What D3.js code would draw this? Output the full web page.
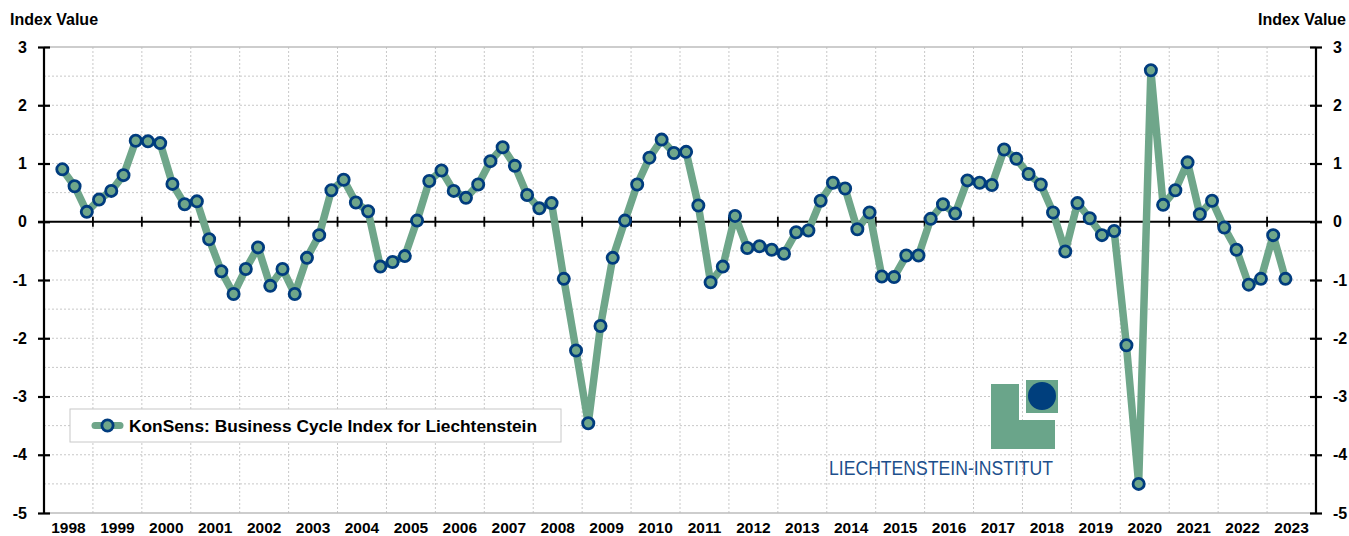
<!DOCTYPE html>
<html>
<head>
<meta charset="utf-8">
<script src="https://cdn.jsdelivr.net/npm/d3@7"></script>
<style>
  html, body { margin: 0; padding: 0; background: #fff; }
  svg { display: block; font-family: 'Liberation Sans', Arial, sans-serif; }
  .grid line { stroke: #c8c8c8; stroke-dasharray: 2 2; }
  .bold { font-weight: bold; fill: #000; }
</style>
</head>
<body>
<svg id="chart" width="1349" height="536"></svg>
<script>
// categories: one label per year, four quarters each
const years = [
  "1998", "1999", "2000", "2001", "2002", "2003", "2004", "2005", "2006",
  "2007", "2008", "2009", "2010", "2011", "2012", "2013", "2014", "2015",
  "2016", "2017", "2018", "2019", "2020", "2021", "2022", "2023"
];
const quarterNames = ["Q1", "Q2", "Q3", "Q4"];
const firstQuarter = "1998Q2";

// KonSens index, quarterly from 1998Q2 to 2023Q2
const konsens = [
  0.90, 0.61, 0.17, 0.38, 0.53, 0.80, 1.39, 1.38, 1.35, 0.65, 0.30, 0.35,
  -0.30, -0.85, -1.24, -0.81, -0.44, -1.10, -0.81, -1.24, -0.62, -0.23, 0.54, 0.72,
  0.33, 0.18, -0.77, -0.69, -0.59, 0.02, 0.70, 0.88, 0.53, 0.41, 0.64, 1.04,
  1.28, 0.96, 0.46, 0.23, 0.32, -0.98, -2.21, -3.46, -1.79, -0.62, 0.02, 0.64,
  1.10, 1.41, 1.18, 1.20, 0.28, -1.04, -0.77, 0.10, -0.45, -0.42, -0.48, -0.55,
  -0.18, -0.15, 0.36, 0.67, 0.57, -0.13, 0.16, -0.94, -0.95, -0.58, -0.58, 0.05,
  0.30, 0.14, 0.71, 0.67, 0.63, 1.24, 1.08, 0.82, 0.64, 0.16, -0.51, 0.32,
  0.06, -0.23, -0.16, -2.12, -4.50, 2.60, 0.29, 0.54, 1.02, 0.13, 0.36, -0.10,
  -0.48, -1.08, -0.98, -0.23, -0.98
];

const yTicks = [3, 2, 1, 0, -1, -2, -3, -4, -5];
const yGrid = [2.5, 2, 1.5, 1, 0.5, -0.5, -1, -1.5, -2, -2.5, -3, -3.5, -4, -4.5];

const axisTitle = "Index Value";
const legendLabel = "KonSens: Business Cycle Index for Liechtenstein";
const logoLabel = "LIECHTENSTEIN-INSTITUT";

const green = "#6fa68a";
const navy = "#003c7e";

const quarters = years.flatMap(y => quarterNames.map(q => y + q));
const start = quarters.indexOf(firstQuarter);
const series = konsens.map((v, i) => ({ q: quarters[start + i], v }));

const svg = d3.select("#chart");
const plotLeft = 44, plotRight = 1316, plotTop = 47, plotBottom = 513;

const x = d3.scaleBand().domain(quarters).range([plotLeft, plotRight]);
const xYear = d3.scaleBand().domain(years).range([plotLeft, plotRight]);
const y = d3.scaleLinear().domain([-5, 3]).range([plotBottom, plotTop]);

const cx = d => x(d.q) + x.bandwidth() / 2;

// grid
const grid = svg.append("g").attr("class", "grid");
grid.selectAll(".h").data(yGrid).join("line")
  .attr("x1", plotLeft).attr("x2", plotRight)
  .attr("y1", d => y(d)).attr("y2", d => y(d));
grid.selectAll(".v").data(years.slice(1)).join("line")
  .attr("x1", d => xYear(d)).attr("x2", d => xYear(d))
  .attr("y1", plotTop).attr("y2", plotBottom);

// plot frame top / bottom
svg.append("g").selectAll("line").data([3, -5]).join("line")
  .attr("x1", plotLeft).attr("x2", plotRight)
  .attr("y1", d => y(d)).attr("y2", d => y(d))
  .attr("stroke", "#bdbdbd").attr("stroke-width", 1.5);

// left and right value axes (plain hyphen for negatives, as in the source)
const tickFmt = d => String(d);
const leftAxis = svg.append("g")
  .attr("transform", `translate(${plotLeft},0)`)
  .call(d3.axisLeft(y).tickValues(yTicks).tickSize(6).tickFormat(tickFmt));
const rightAxis = svg.append("g")
  .attr("transform", `translate(${plotRight},0)`)
  .call(d3.axisRight(y).tickValues(yTicks).tickSize(6).tickFormat(tickFmt));

[leftAxis, rightAxis].forEach(g => {
  g.select(".domain").attr("stroke", "#000").attr("stroke-width", 2.2)
    .attr("d", `M0,${plotTop}V${plotBottom}`);
  g.selectAll(".tick line").attr("stroke", "#000").attr("stroke-width", 2.2)
    .attr("x1", -6).attr("x2", 6);
  g.selectAll(".tick text").attr("class", "bold")
    .style("font-size", "16px").style("font-family", "'Liberation Sans', Arial, sans-serif");
});
rightAxis.selectAll(".tick text").attr("x", 17);
leftAxis.selectAll(".tick text").attr("x", -17);

// zero line with year ticks
const zero = svg.append("g").attr("transform", `translate(0,${y(0)})`);
zero.append("line").attr("x1", plotLeft - 6).attr("x2", plotRight + 6)
  .attr("stroke", "#000").attr("stroke-width", 2);
zero.selectAll(".yt").data(years.slice(1)).join("line")
  .attr("x1", d => xYear(d)).attr("x2", d => xYear(d))
  .attr("y1", -5).attr("y2", 5)
  .attr("stroke", "#000").attr("stroke-width", 1.8);

// year labels
svg.append("g").selectAll("text").data(years).join("text")
  .attr("class", "bold")
  .attr("x", d => xYear(d) + xYear.bandwidth() / 2)
  .attr("y", 533)
  .attr("text-anchor", "middle")
  .style("font-size", "15.5px")
  .text(d => d);

// axis titles
svg.append("text").attr("class", "bold").attr("x", 10).attr("y", 25)
  .style("font-size", "16px").text(axisTitle);
svg.append("text").attr("class", "bold").attr("x", 1346).attr("y", 25)
  .attr("text-anchor", "end").style("font-size", "16px").text(axisTitle);

// logo
const logo = svg.append("g");
logo.append("path")
  .attr("d", "M991,384H1019V420H1055V449H991Z")
  .attr("fill", "#6aa58a");
logo.append("rect").attr("x", 1026).attr("y", 380).attr("width", 32).attr("height", 33)
  .attr("fill", "#6aa58a");
logo.append("circle").attr("cx", 1042).attr("cy", 396).attr("r", 14).attr("fill", "#003f7d");
logo.append("text").attr("x", 829).attr("y", 475)
  .attr("textLength", 224).attr("lengthAdjust", "spacingAndGlyphs")
  .style("font-size", "20px").attr("fill", "#1d4f8c")
  .text(logoLabel);

// series line and markers
const line = d3.line().x(cx).y(d => y(d.v));
svg.append("path").datum(series)
  .attr("d", line)
  .attr("fill", "none")
  .attr("stroke", green)
  .attr("stroke-width", 7.5)
  .attr("stroke-linejoin", "round");

svg.append("g").selectAll("circle").data(series).join("circle")
  .attr("cx", cx).attr("cy", d => y(d.v)).attr("r", 5.6)
  .attr("fill", green).attr("stroke", navy).attr("stroke-width", 2.8);

// legend
const legend = svg.append("g").attr("transform", "translate(70,409)");
legend.append("rect").attr("width", 491).attr("height", 33)
  .attr("fill", "#fff").attr("stroke", "#c8c8c8").attr("stroke-width", 1);
legend.append("line").attr("x1", 25).attr("x2", 50).attr("y1", 16.5).attr("y2", 16.5)
  .attr("stroke", green).attr("stroke-width", 7).attr("stroke-linecap", "round");
legend.append("circle").attr("cx", 37.5).attr("cy", 16.5).attr("r", 5.6)
  .attr("fill", green).attr("stroke", navy).attr("stroke-width", 2.8);
legend.append("text").attr("class", "bold")
  .attr("x", 59).attr("y", 23)
  .attr("textLength", 408).attr("lengthAdjust", "spacingAndGlyphs")
  .style("font-size", "16.5px")
  .text(legendLabel);
</script>
</body>
</html>
